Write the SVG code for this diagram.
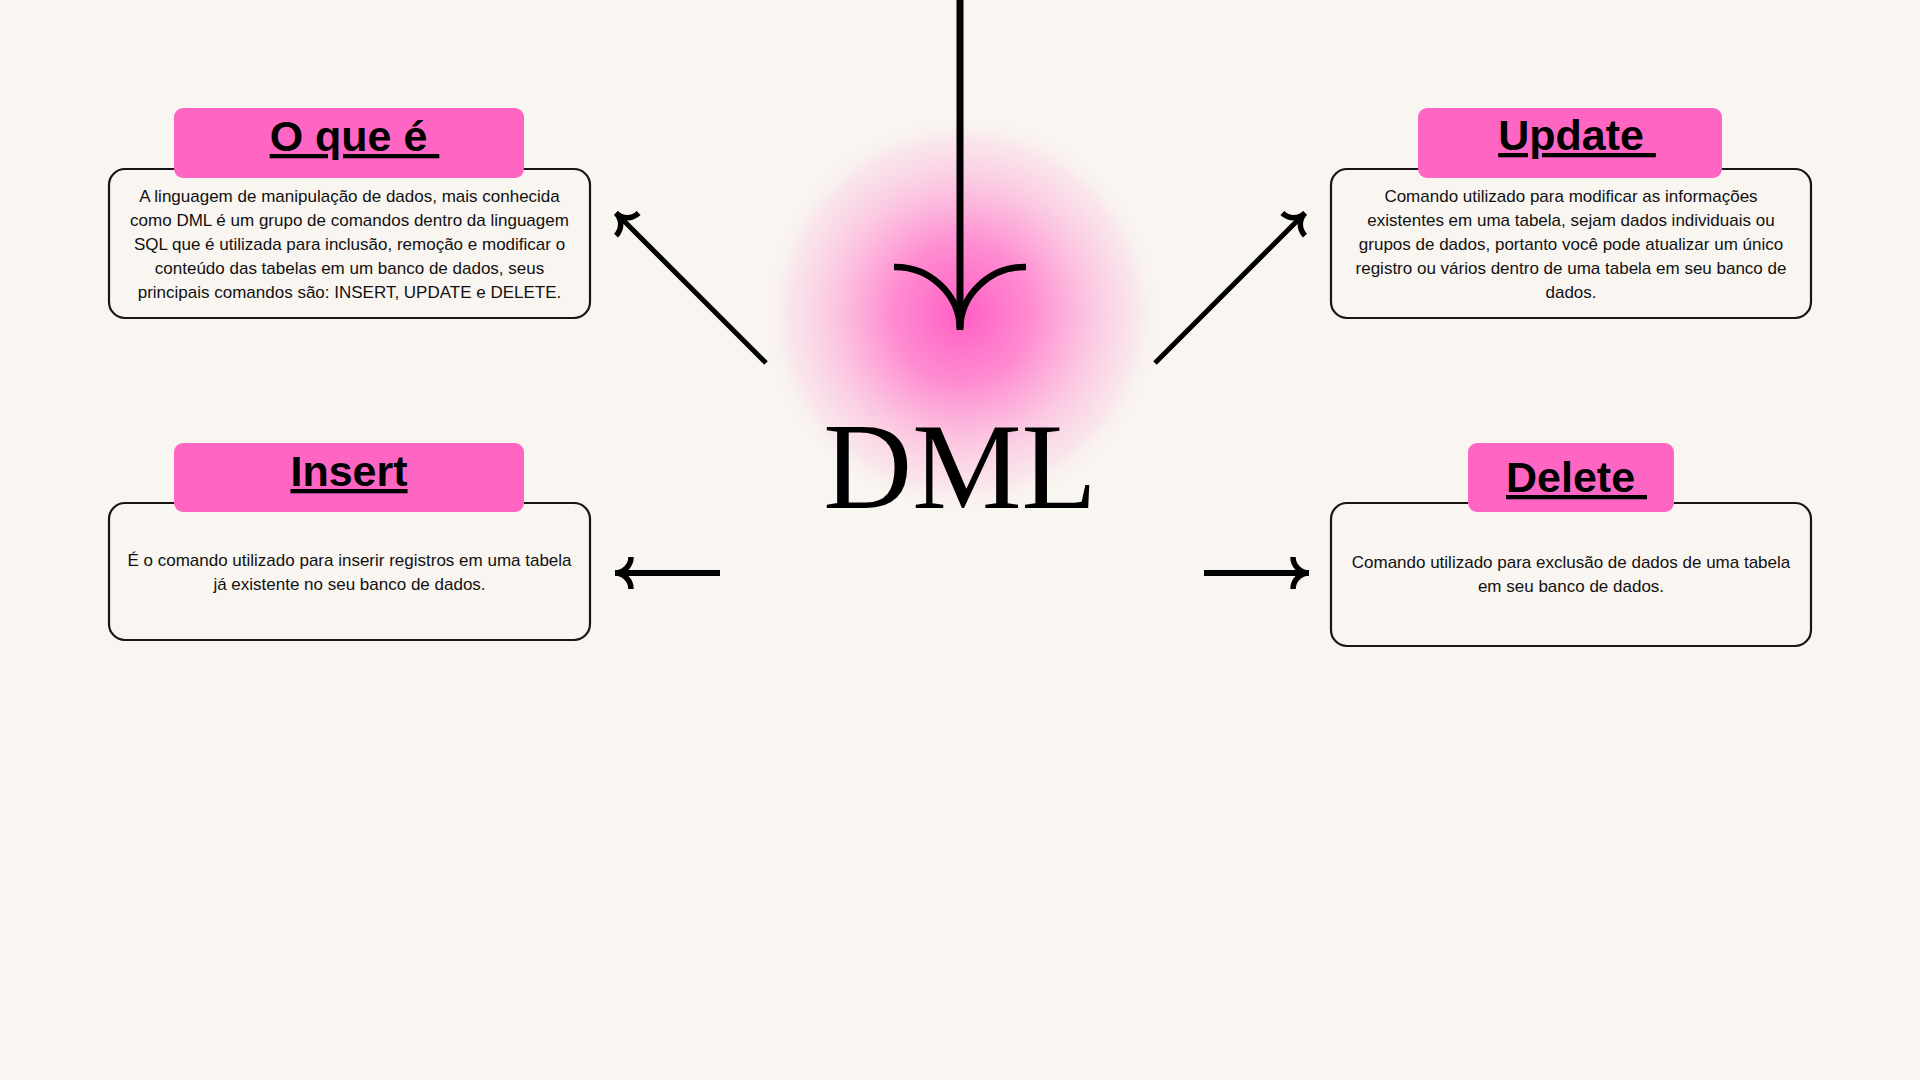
<svg xmlns="http://www.w3.org/2000/svg" width="1920" height="1080" viewBox="0 0 1920 1080">
  <defs>
    <radialGradient id="glow" cx="962" cy="314" r="198" gradientUnits="userSpaceOnUse">
      <stop offset="0" stop-color="#ff5ec4" stop-opacity="1"/>
      <stop offset="0.35" stop-color="#ff86cf" stop-opacity="0.95"/>
      <stop offset="0.65" stop-color="#fcbfdf" stop-opacity="0.85"/>
      <stop offset="0.88" stop-color="#f9e0ea" stop-opacity="0.7"/>
      <stop offset="1" stop-color="#f9f5f0" stop-opacity="0"/>
    </radialGradient>
    <marker id="head" markerUnits="userSpaceOnUse" viewBox="-24 -24 48 48" markerWidth="48" markerHeight="48" refX="0" refY="0" orient="auto" overflow="visible">
      <path d="M-16,-16 A16,16 0 0 0 0,0 A16,16 0 0 0 -16,16" fill="none" stroke="#000" stroke-width="5.5" stroke-linecap="butt"/>
    </marker>
    <style>
      .bg { fill: #f9f5f0; }
      .body { fill: #f9f5f0; stroke: #161616; stroke-width: 2.2; }
      .head { fill: #ff66c4; }
      .title { font-family: "Liberation Sans", Arial, sans-serif; font-weight: bold; font-size: 43px; fill: #000; text-decoration: underline; text-anchor: middle; }
      .txt { font-family: "Liberation Sans", Arial, sans-serif; font-size: 17px; fill: #111; text-anchor: middle; }
      .conn { fill: none; stroke: #000; stroke-linecap: butt; }
      .dml { font-family: "Liberation Serif", "Times New Roman", serif; font-size: 123px; fill: #000; text-anchor: middle; }
    </style>
  </defs>

  <rect class="bg" x="0" y="0" width="1920" height="1080"/>

  <g id="node-dml">
    <ellipse cx="962" cy="314" rx="198" ry="198" fill="url(#glow)"/>
    <text class="dml" x="960" y="508">DML</text>
  </g>

  <g id="connectors">
    <line class="conn" x1="960" y1="0" x2="960" y2="328" stroke-width="7"/>
    <path class="conn" d="M894,267 A65,63 0 0 1 960,330" stroke-width="6.5"/>
    <path class="conn" d="M1026,267 A65,63 0 0 0 960,330" stroke-width="6.5"/>
    <line class="conn" x1="766" y1="363" x2="616" y2="213" stroke-width="5" marker-end="url(#head)"/>
    <line class="conn" x1="1155" y1="363" x2="1305" y2="213" stroke-width="5" marker-end="url(#head)"/>
    <line class="conn" x1="720" y1="573" x2="615" y2="573" stroke-width="6" marker-end="url(#head)"/>
    <line class="conn" x1="1204" y1="573" x2="1309" y2="573" stroke-width="6" marker-end="url(#head)"/>
  </g>

  <g id="node-oque">
    <rect class="body" x="109" y="169" width="481" height="149" rx="16"/>
    <rect class="head" x="174" y="108" width="350" height="70" rx="9"/>
    <text class="title" x="354.5" y="151" xml:space="preserve">O que é </text>
    <text class="txt" x="349.5" y="202">A linguagem de manipulação de dados, mais conhecida</text>
    <text class="txt" x="349.5" y="226">como DML é um grupo de comandos dentro da linguagem</text>
    <text class="txt" x="349.5" y="250">SQL que é utilizada para inclusão, remoção e modificar o</text>
    <text class="txt" x="349.5" y="274">conteúdo das tabelas em um banco de dados, seus</text>
    <text class="txt" x="349.5" y="298">principais comandos são: INSERT, UPDATE e DELETE.</text>
  </g>

  <g id="node-update">
    <rect class="body" x="1331" y="169" width="480" height="149" rx="16"/>
    <rect class="head" x="1418" y="108" width="304" height="70" rx="9"/>
    <text class="title" x="1577" y="150" xml:space="preserve">Update </text>
    <text class="txt" x="1571" y="202">Comando utilizado para modificar as informações</text>
    <text class="txt" x="1571" y="226">existentes em uma tabela, sejam dados individuais ou</text>
    <text class="txt" x="1571" y="250">grupos de dados, portanto você pode atualizar um único</text>
    <text class="txt" x="1571" y="274">registro ou vários dentro de uma tabela em seu banco de</text>
    <text class="txt" x="1571" y="298">dados.</text>
  </g>

  <g id="node-insert">
    <rect class="body" x="109" y="503" width="481" height="137" rx="16"/>
    <rect class="head" x="174" y="443" width="350" height="69" rx="9"/>
    <text class="title" x="349" y="486">Insert</text>
    <text class="txt" x="349.5" y="566">É o comando utilizado para inserir registros em uma tabela</text>
    <text class="txt" x="349.5" y="590">já existente no seu banco de dados.</text>
  </g>

  <g id="node-delete">
    <rect class="body" x="1331" y="503" width="480" height="143" rx="16"/>
    <rect class="head" x="1468" y="443" width="206" height="69" rx="9"/>
    <text class="title" x="1576.5" y="492" xml:space="preserve">Delete </text>
    <text class="txt" x="1571" y="568">Comando utilizado para exclusão de dados de uma tabela</text>
    <text class="txt" x="1571" y="592">em seu banco de dados.</text>
  </g>
</svg>
